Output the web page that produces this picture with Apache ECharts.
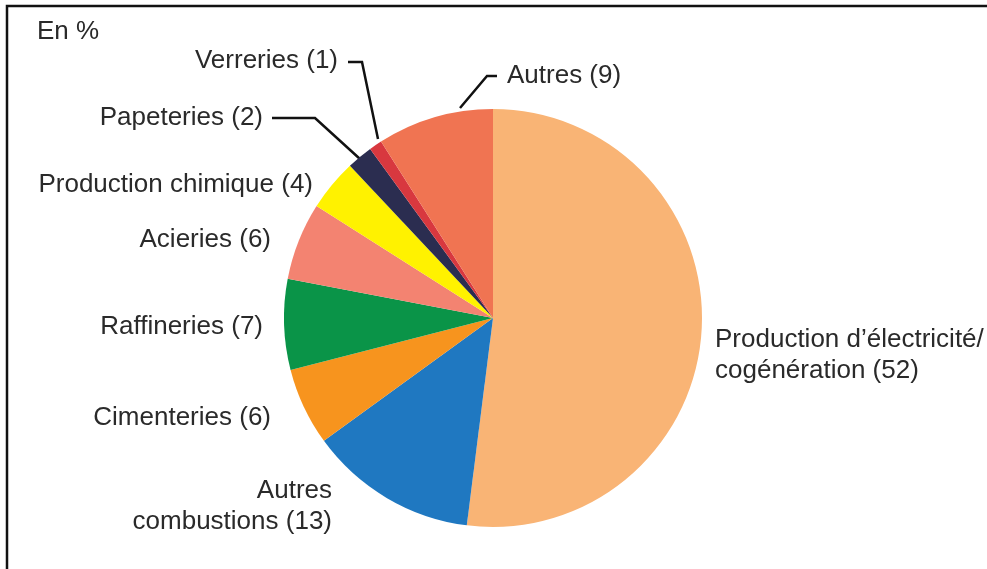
<!DOCTYPE html>
<html>
<head>
<meta charset="utf-8">
<script src="https://cdn.jsdelivr.net/npm/echarts@6/dist/echarts.min.js"></script>
<style>
  html, body { margin: 0; padding: 0; background: #fff; }
  #chart { width: 987px; height: 569px; }
</style>
</head>
<body>
<div id="chart"></div>
<script>
// secteurs, dans le sens des aiguilles d'une montre depuis midi
const categories = [
  'Production d’électricité/\ncogénération',
  'Autres\ncombustions',
  'Cimenteries',
  'Raffineries',
  'Acieries',
  'Production chimique',
  'Papeteries',
  'Verreries',
  'Autres'
];
const values = [52, 13, 6, 7, 6, 4, 2, 1, 9];
const colors = ['#F9B475', '#1F78C1', '#F7941E', '#0A9448', '#F38371', '#FFF200', '#2B2D50', '#D8383F', '#F07452'];

// placement des étiquettes (x, y, alignement) et traits de rappel
const labelPos = [
  [715, 355, 'left'],
  [332, 506, 'right'],
  [271, 418, 'right'],
  [263, 327, 'right'],
  [271, 240, 'right'],
  [313, 185, 'right'],
  [263, 118, 'right'],
  [338, 61, 'right'],
  [507, 76, 'left']
];
const leaderLines = {
  6: [[272, 118], [315, 118], [360, 159]],
  7: [[348, 62], [362, 62], [378, 139]],
  8: [[497, 76], [487, 76], [460, 108]]
};

const chart = echarts.init(document.getElementById('chart'));
chart.setOption({
  animation: false,
  color: colors,
  graphic: [
    {
      type: 'rect',
      shape: { x: 7, y: 6, width: 1000, height: 600 },
      style: { fill: 'none', stroke: '#111', lineWidth: 2.5 }
    },
    {
      type: 'text',
      left: 37,
      top: 19,
      style: { text: 'En %', fontSize: 26, fontFamily: 'Liberation Sans', fill: '#2a2a2a' }
    }
  ],
  series: [
    {
      type: 'pie',
      center: [493, 318],
      radius: 209,
      startAngle: 90,
      clockwise: true,
      data: categories.map((name, i) => ({
        name: name,
        value: values[i],
        labelLine: { show: !!leaderLines[i] }
      })),
      label: {
        show: true,
        position: 'outside',
        formatter: '{b} ({c})',
        fontSize: 26,
        lineHeight: 31,
        overflow: 'none',
        fontFamily: 'Liberation Sans',
        color: '#2a2a2a'
      },
      labelLine: {
        show: true,
        lineStyle: { color: '#111', width: 2.5 }
      },
      labelLayout: function (params) {
        const p = labelPos[params.dataIndex];
        const res = {
          x: p[0],
          y: p[1],
          align: p[2],
          verticalAlign: 'middle'
        };
        if (leaderLines[params.dataIndex]) {
          res.labelLinePoints = leaderLines[params.dataIndex];
        }
        return res;
      },
      emphasis: { disabled: true }
    }
  ]
});
</script>
</body>
</html>
